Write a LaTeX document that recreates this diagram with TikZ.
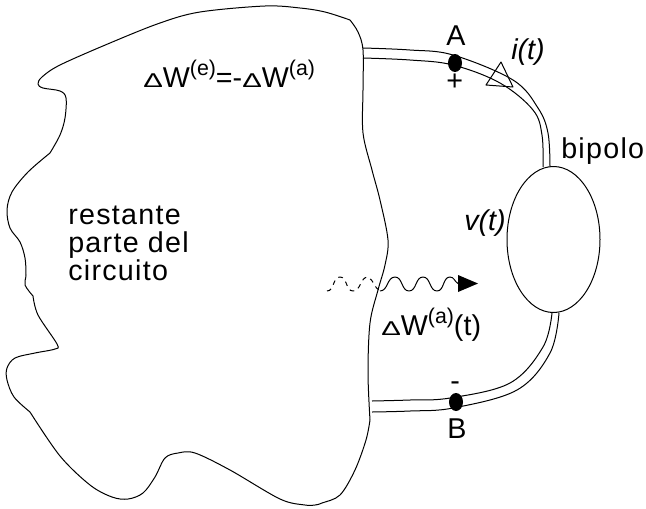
\documentclass[tikz,border=0pt]{standalone}
\usepackage{fontspec}
\usepackage{graphicx}
\setmainfont{Liberation Sans}
\newfontfamily\spaced[LetterSpace=4.5]{Liberation Sans}
\newcommand{\txt}{\fontsize{21.5}{21}\selectfont}
\newcommand{\dlt}{{\fontsize{22}{22}\selectfont\scalebox{1}[0.68]{Δ}}}
\newcommand{\sps}[1]{\raisebox{8.5pt}{\fontsize{16}{16}\selectfont #1}}
\tikzset{
  x=0.75pt,y=-0.75pt,
  line/.style={draw=black,line width=0.75pt,line join=round},
  label/.style={inner sep=0pt,anchor=base west,text=black,font=\txt},
  spacedlabel/.style={label,font=\fontsize{21.5}{21}\spaced},
  dot/.style={ellipse,fill=black,draw=none,minimum width=10.5pt,minimum height=13.5pt,inner sep=0pt},
}
\usetikzlibrary{shapes.geometric}
\begin{document}
\begin{tikzpicture}
\useasboundingbox (0,0) rectangle (646,508);
% circuit blob
\draw[line] plot[smooth,tension=0.55] coordinates {
 (350,20) (325,12) (300,8) (265,6) (200,12) (160,23) (110,43) (60,65) (42,77) (38,84) (43,88) (60,91) (66,98) (65,118) (60,135) (50,153)};
\draw[line] plot[smooth,tension=0.55] coordinates {
 (50,153) (28,172) (12,192) (7,210) (10,228) (20,242) (25,258) (26,275) (25,285) (33,296)};
\draw[line] plot[smooth,tension=0.55] coordinates {
 (33,296) (38,315) (57,344) (55,349) (35,353) (15,358) (7,368) (7,380) (14,397) (30,412)};
\draw[line] plot[smooth,tension=0.55] coordinates {
 (30,412) (60,456) (90,485) (112,497) (128,499) (143,493) (155,477) (165,458) (178,453) (195,453) (230,470) (280,499) (305,505) (315,505) (322,503) (340,495) (355,470) (366,440) (370,420)};
\draw[line] plot[smooth,tension=0.55] coordinates {
 (350,20) (358,32) (363,50) (363,90) (363,133) (372,170) (380,200) (388,240) (385,265) (378,290) (370,323) (368,373) (370,420)};
% wires
\draw[line] plot[smooth,tension=0.6] coordinates {(363,48) (410,50) (453,55) (513,80) (538,108) (548,133) (550,167)};
\draw[line] plot[smooth,tension=0.6] coordinates {(363,58) (410,60) (453,65) (500,83) (533,110) (542,135) (543,167)};
\draw[line] plot[smooth,tension=0.6] coordinates {(372,401) (410,400) (450,398) (510,383) (543,347) (552,313)};
\draw[line] plot[smooth,tension=0.6] coordinates {(372,412) (410,411) (453,408) (517,390) (550,353) (559,313)};
% bipole
\node[ellipse,line,fill=white,minimum width=69.75pt,minimum height=109.5pt,inner sep=0pt] (bip) at (553.5,239.5) {};
% terminals
\node[dot] (A) at (455,63) {};
\node[dot] (B) at (456,402) {};
% current marker
\coordinate (t1) at (501,62);
\coordinate (t2) at (486,85);
\coordinate (t3) at (513,87);
\draw[line] (t1) -- (t2) -- (t3) -- cycle;
% power wave
\coordinate (w0) at (327,291);
\coordinate (w1) at (340,277);
\coordinate (w2) at (353,291);
\coordinate (w3) at (368,277);
\coordinate (w4) at (380,291);
\coordinate (w5) at (395,277);
\coordinate (w6) at (409,291);
\coordinate (w7) at (423,277);
\coordinate (w8) at (437,291);
\coordinate (w9) at (450,277);
\coordinate (wa) at (458,283.5);
\coordinate (h1) at (458,275);
\coordinate (h2) at (478,283.5);
\coordinate (h3) at (458,292);
\draw[line,dash pattern=on 3.5pt off 3.5pt] (w0) to[out=0,in=180] (w1) to[out=0,in=180] (w2) to[out=0,in=180] (w3) to[out=-30,in=150] (w4);
\draw[line] (w4) to[out=0,in=180] (w5) to[out=0,in=180] (w6) to[out=0,in=180] (w7) to[out=0,in=180] (w8) to[out=0,in=180] (w9) to[out=0,in=150] (wa);
\fill (h1) -- (h2) -- (h3) -- cycle;
% labels
\node[label] (l1) at (143,87) {\dlt W\sps{(e)}=-\dlt W\sps{(a)}};
\node[spacedlabel,align=left] (l2) at (68,280) {restante\\parte del\\circuito};
\node[spacedlabel] (l3) at (561,158) {bipolo};
\node[label] (l4) at (446,45) {A};
\node[label] (l5) at (446,90) {+};
\node[label] (l6) at (450,390) {-};
\node[label] (l7) at (447,438) {B};
\node[label,font=\txt\itshape] (l8) at (511,59) {i(t)};
\node[label,font=\txt\itshape] (l9) at (464,230) {v(t)};
\node[label] (l10) at (381,335) {\dlt W\sps{(a)}(t)};
\end{tikzpicture}
\end{document}
